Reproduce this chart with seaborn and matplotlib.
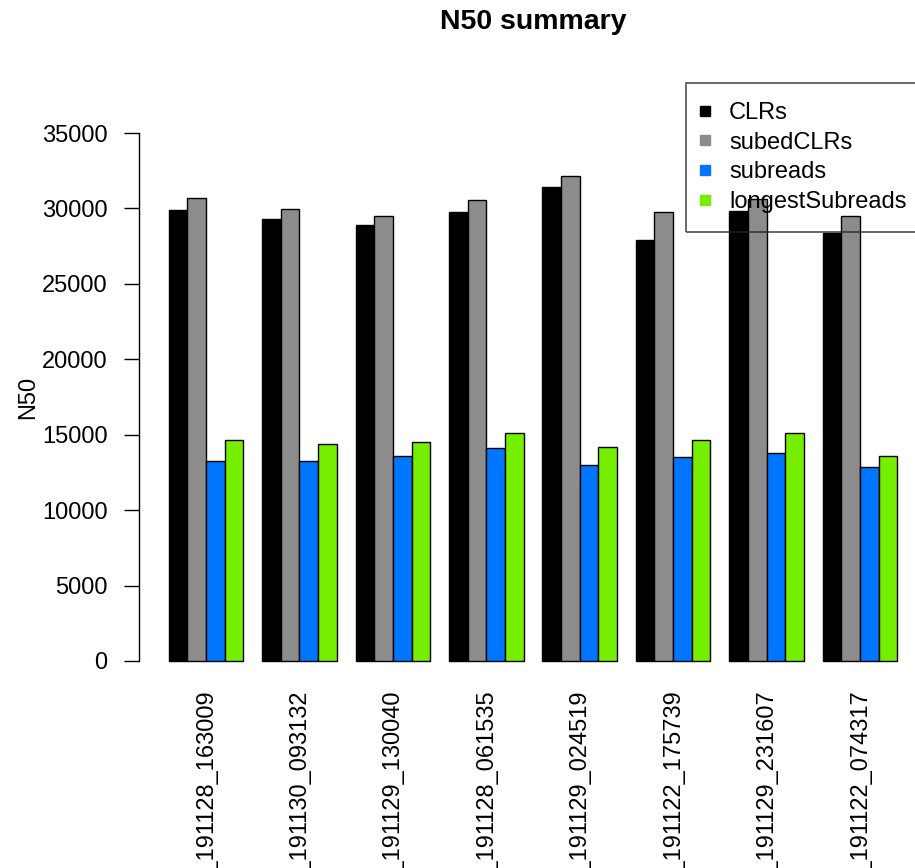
import matplotlib
matplotlib.use("Agg")
import matplotlib.pyplot as plt
from matplotlib.lines import Line2D
import seaborn as sns
import pandas as pd

# N50 values per sequencing run
samples = ["m54336U_191128_163009", "m54336U_191130_093132", "m54336U_191129_130040",
           "m54336U_191128_061535", "m54336U_191129_024519", "m54336U_191122_175739",
           "m54336U_191129_231607", "m54336U_191122_074317"]
series = ["CLRs", "subedCLRs", "subreads", "longestSubreads"]
clrs = [29890, 29270, 28890, 29770, 31410, 27900, 29850, 28360]
subed_clrs = [30670, 29970, 29470, 30530, 32140, 29740, 30600, 29510]
subreads = [13260, 13260, 13590, 14100, 12980, 13510, 13770, 12850]
longest_subreads = [14650, 14370, 14500, 15130, 14210, 14670, 15130, 13610]
colors = ["#000000", "#8C8C8C", "#0075FF", "#76EE00"]
y_ticks = [0, 5000, 10000, 15000, 20000, 25000, 30000, 35000]

values = [clrs, subed_clrs, subreads, longest_subreads]
df = pd.DataFrame({
    "sample": [s for _ in series for s in samples],
    "type": [t for t in series for _ in samples],
    "N50": [v for vals in values for v in vals],
})

sns.set_style("white")
plt.rcParams["font.family"] = ["Liberation Sans", "DejaVu Sans"]
plt.rcParams["text.color"] = "black"
plt.rcParams["axes.labelcolor"] = "black"

W, H = 915, 868
fig = plt.figure(figsize=(W / 100, H / 100), dpi=100)
left, right, top, bottom = 138.8, 927.2, 111.9, 682.1
ax = fig.add_axes([left / W, 1 - bottom / H, (right - left) / W, (bottom - top) / H])

sns.barplot(data=df, x="sample", y="N50", hue="type", order=samples, hue_order=series,
            palette=colors, saturation=1, edgecolor="black", linewidth=1,
            width=0.8, gap=0, errorbar=None, legend=False, ax=ax)

ax.set_xlim(-0.72, 7.72)
ax.set_ylim(-1400, 36400)
for s in ["top", "right", "bottom"]:
    ax.spines[s].set_visible(False)
ax.spines["left"].set_bounds(0, 35000)
ax.spines["left"].set_color("black")
ax.spines["left"].set_linewidth(1)

ax.set_yticks(y_ticks)
ax.set_yticklabels([str(t) for t in y_ticks])
ax.tick_params(axis="y", left=True, length=11, width=1, color="black", pad=11.5,
               labelsize=17, labelcolor="black")
ax.tick_params(axis="x", bottom=False, length=0, pad=5.5, labelsize=17,
               labelcolor="black")
ax.set_xticks(range(len(samples)))
ax.set_xticklabels(samples, rotation=90, ha="center", va="top")
ax.set_xlabel("")
ax.set_ylabel("N50", fontsize=17, labelpad=2, color="black")

fig.text(533 / W, 1 - 22 / H, "N50 summary", ha="center", va="center",
         fontsize=20.5, fontweight="bold", color="black")

handles = [Line2D([], [], linestyle="none", marker="s", markersize=7,
                  markerfacecolor=c, markeredgecolor=c) for c in colors]
leg = fig.legend(handles, series, loc="upper left",
                 bbox_to_anchor=(686 / W, 1 - 83 / H), bbox_transform=fig.transFigure,
                 fontsize=17, frameon=True, fancybox=False, borderpad=0.8,
                 handlelength=0.05, handletextpad=0.98, labelspacing=0.33,
                 borderaxespad=0)
leg.get_frame().set_facecolor("none")
leg.get_frame().set_edgecolor("#222222")
leg.get_frame().set_linewidth(1.2)

fig.savefig("out.png", dpi=100)
